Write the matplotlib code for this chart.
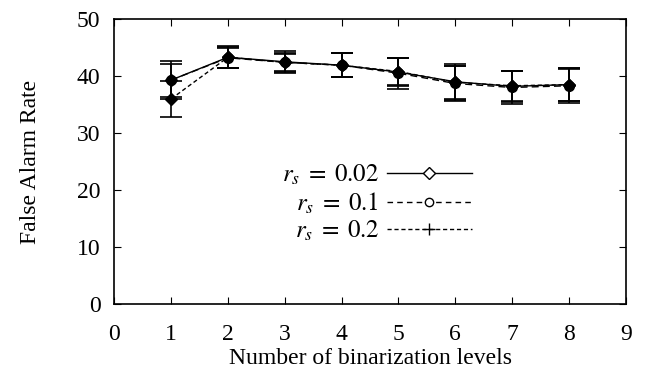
import matplotlib
matplotlib.use("Agg")
import matplotlib.pyplot as plt
from matplotlib.lines import Line2D

plt.rcParams['font.family'] = ['Liberation Serif', 'DejaVu Serif']
plt.rcParams['mathtext.fontset'] = 'stix'

levels = [1, 2, 3, 4, 5, 6, 7, 8]
labels = [r'$r_s\;=\;0.02$', r'$r_s\;=\;0.1$', r'$r_s\;=\;0.2$']
mean_002 = [39.3, 43.3, 42.5, 41.9, 40.7, 39.0, 38.2, 38.5]
err_002 = [3.3, 1.8, 1.9, 2.1, 2.5, 3.2, 2.7, 2.9]
mean_01 = [39.3, 43.2, 42.4, 41.9, 40.5, 38.7, 38.0, 38.3]
err_01 = [2.9, 1.8, 1.6, 2.1, 2.7, 3.1, 2.9, 3.1]
mean_02 = [36.0, 43.3, 42.4, 41.9, 40.8, 38.9, 38.3, 38.5]
err_02 = [3.2, 1.9, 1.5, 2.1, 2.4, 2.9, 2.6, 2.8]

xticks = list(range(0, 10))
yticks = [0, 10, 20, 30, 40, 50]

fig = plt.figure(figsize=(6.47, 3.88), dpi=100)
ax = fig.add_axes([0.1767, 0.2157, 0.7904, 0.7353])

series = [
    (mean_002, err_002, '-', 'D', 6),
    (mean_01, err_01, (0, (5, 3)), 'o', 7),
    (mean_02, err_02, (0, (3, 2)), 'D', 6),
]
for m, e, ls, mk, ms in series:
    ax.errorbar(levels, m, yerr=e, color='black', linestyle=ls, linewidth=1.0,
                marker=mk, markersize=ms, markerfacecolor='black',
                markeredgecolor='black', ecolor='black', elinewidth=1.2,
                capsize=8, capthick=1.2)

ax.set_xlim(0, 9)
ax.set_ylim(0, 50)
ax.set_xticks(xticks)
ax.set_yticks(yticks)
ax.tick_params(direction='in', length=5, width=0.8, top=True, right=True,
               labelsize=17)
ax.tick_params(axis='x', pad=14)
ax.tick_params(axis='y', pad=10)
for s in ax.spines.values():
    s.set_linewidth(1.2)

ax.set_xlabel('Number of binarization levels', fontsize=17, labelpad=2)
ax.set_ylabel('False Alarm Rate', fontsize=17, labelpad=26)

handles = [
    Line2D([], [], color='black', linestyle='-', linewidth=1.0, marker='D',
           markersize=6, markerfacecolor='white', markeredgecolor='black'),
    Line2D([], [], color='black', linestyle=(0, (4, 3)), linewidth=1.0, marker='o',
           markersize=6, markerfacecolor='white', markeredgecolor='black'),
    Line2D([], [], color='black', linestyle=(0, (3, 2)), linewidth=1.0, marker='+',
           markersize=8, markeredgecolor='black'),
]
ax.legend(handles, labels, loc='center right', bbox_to_anchor=(0.728, 0.355),
          frameon=False, markerfirst=False, fontsize=18, handlelength=3.4,
          handletextpad=0.3, labelspacing=0.12, borderpad=0.1)

fig.savefig('out.png', dpi=100)
